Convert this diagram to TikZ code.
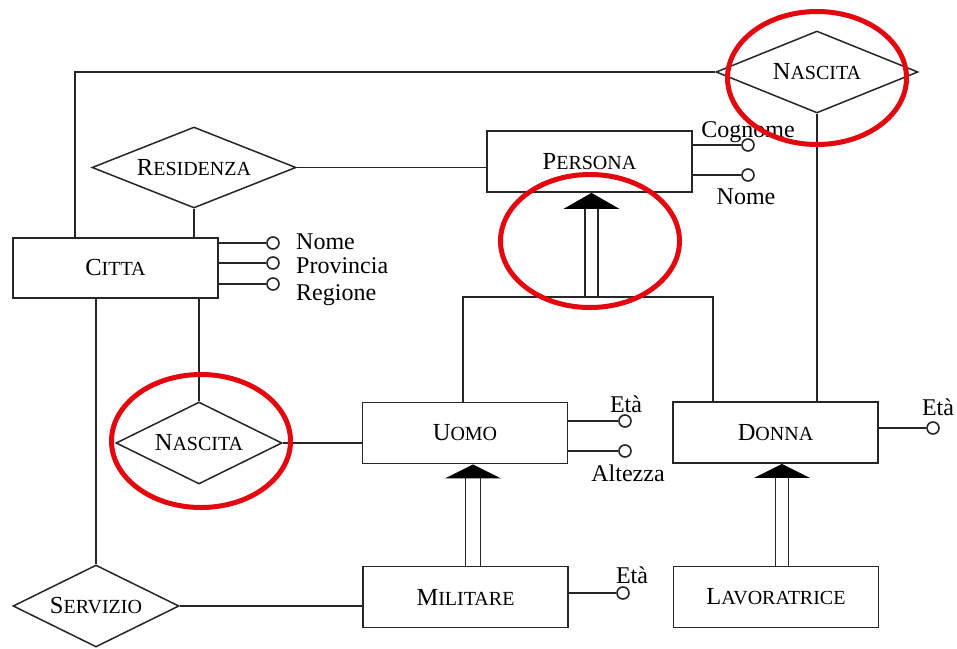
\documentclass[tikz,border=0pt]{standalone}
\usepackage{fontspec}
\setmainfont{Liberation Serif}
\usetikzlibrary{shapes.geometric}
\definecolor{ink}{HTML}{262626}
\definecolor{mark}{HTML}{E3070F}
% faked small capitals: full-size initial, smaller capitals after it
\newcommand\fsc[2]{{\fontsize{24.5}{28}\selectfont #1}{\fontsize{20}{24}\selectfont #2}}
\tikzset{
  entity/.style={draw=ink, line width=1.8pt, minimum width=205pt, minimum height=61pt,
                 inner sep=0pt, text=black, fill=white},
  relation/.style={draw=ink, line width=1.5pt, diamond, aspect=2.5, inner sep=0pt,
                   text=black, fill=white},
  link/.style={draw=ink, line width=1.7pt},
  attr/.style={draw=ink, line width=1.6pt, circle, minimum size=12pt, inner sep=0pt, fill=white},
  attrlabel/.style={inner sep=0pt, anchor=base, font=\fontsize{24}{27}\selectfont, text=black},
  isahead/.style={fill=black},
  highlight/.style={draw=mark, line width=5pt},
}
\begin{document}
\begin{tikzpicture}[x=1pt,y=-1pt]
\useasboundingbox (0,0) rectangle (957,648);
\fill[white] (0,0) rectangle (957,648);

% entities
\node[entity] (persona) at (589.5,161.5) {\fsc{P}{ERSONA}};
\node[entity, minimum height=60pt] (citta) at (115.5,268) {\fsc{C}{ITTA}};
\node[entity] (uomo) at (465,433) {\fsc{U}{OMO}};
\node[entity] (donna) at (775.5,432.5) {\fsc{D}{ONNA}};
\node[entity] (militare) at (465.5,597) {\fsc{M}{ILITARE}};
\node[entity] (lavoratrice) at (776,597) {\fsc{L}{AVORATRICE}};

% relationships
\node[relation, minimum width=202pt, minimum height=82pt] (nascitaT) at (817,72) {\fsc{N}{ASCITA}};
\node[relation, minimum width=204pt, minimum height=81pt] (residenza) at (194,167.5) {\fsc{R}{ESIDENZA}};
\node[relation, minimum width=166pt, minimum height=82pt] (nascitaL) at (199,443) {\fsc{N}{ASCITA}};
\node[relation, minimum width=166pt, minimum height=82pt] (servizio) at (96,606) {\fsc{S}{ERVIZIO}};

% relationship links
\draw[link] (nascitaT.west) -| ([xshift=-40.5pt]citta.north);
\draw[link] (nascitaT.south) -- (nascitaT.south |- donna.north);
\draw[link] (residenza.east) -- (residenza.east -| persona.west);
\draw[link] (residenza.south) -- (residenza.south |- citta.north);
\draw[link] (nascitaL.north) -- (nascitaL.north |- citta.south);
\draw[link] (servizio.north) -- (servizio.north |- citta.south);
\draw[link] (nascitaL.east) -- (nascitaL.east -| uomo.west);
\draw[link] (servizio.east) -- (servizio.east -| militare.west);

% generalization PERSONA -> UOMO, DONNA
\coordinate (hub) at (591.5,297);
\coordinate (pb) at ([xshift=2pt,yshift=-16pt]persona.south);
\coordinate (pbl) at ([xshift=-6.5pt]pb);
\coordinate (pbr) at ([xshift=6.5pt]pb);
\draw[link] ([xshift=-2pt]uomo.north) |- (hub) -| ([xshift=-62.5pt]donna.north);
\draw[link] (pbl) -- (pbl |- hub);
\draw[link] (pbr) -- (pbr |- hub);
\fill[isahead] ([xshift=2pt]persona.south) -- ([xshift=-28pt]pb) -- ([xshift=28pt]pb) -- cycle;

% generalization UOMO -> MILITARE
\coordinate (ub) at ([xshift=8pt,yshift=-14pt]uomo.south);
\coordinate (ubl) at ([xshift=-7.5pt]ub);
\coordinate (ubr) at ([xshift=7.5pt]ub);
\draw[link] (ubl) -- (ubl |- militare.north);
\draw[link] (ubr) -- (ubr |- militare.north);
\fill[isahead] ([xshift=8pt]uomo.south) -- ([xshift=-28pt]ub) -- ([xshift=28pt]ub) -- cycle;

% generalization DONNA -> LAVORATRICE
\coordinate (db) at ([xshift=6.5pt,yshift=-14pt]donna.south);
\coordinate (dbl) at ([xshift=-6.5pt]db);
\coordinate (dbr) at ([xshift=6.5pt]db);
\draw[link] (dbl) -- (dbl |- lavoratrice.north);
\draw[link] (dbr) -- (dbr |- lavoratrice.north);
\fill[isahead] ([xshift=6.5pt]donna.south) -- ([xshift=-28pt]db) -- ([xshift=28pt]db) -- cycle;

% attributes of PERSONA
\node[attr] (pCognome) at (748,145) {};
\node[attr] (pNome) at (748,175) {};
\draw[link] (persona.east |- pCognome) -- (pCognome);
\draw[link] (persona.east |- pNome) -- (pNome);
\node[attrlabel] (lCognome) at (748,137) {Cognome};
\node[attrlabel] (lPNome) at (746,204) {Nome};

% attributes of CITTA
\node[attr] (cNome) at (273,243) {};
\node[attr] (cProv) at (273,263) {};
\node[attr] (cReg) at (273,284) {};
\draw[link] (citta.east |- cNome) -- (cNome);
\draw[link] (citta.east |- cProv) -- (cProv);
\draw[link] (citta.east |- cReg) -- (cReg);
\node[attrlabel, anchor=base west] (lCNome) at (296,249) {Nome};
\node[attrlabel, anchor=base west] (lCProv) at (296,273) {Provincia};
\node[attrlabel, anchor=base west] (lCReg) at (296,300) {Regione};

% attributes of UOMO
\node[attr] (uEta) at (625,421) {};
\node[attr] (uAlt) at (625,451) {};
\draw[link] (uomo.east |- uEta) -- (uEta);
\draw[link] (uomo.east |- uAlt) -- (uAlt);
\node[attrlabel] (lUEta) at (626,412) {Età};
\node[attrlabel] (lUAlt) at (628,481) {Altezza};

% attribute of DONNA
\node[attr] (dEta) at (933,428) {};
\draw[link] (donna.east |- dEta) -- (dEta);
\node[attrlabel] (lDEta) at (938,415) {Età};

% attribute of MILITARE
\node[attr] (mEta) at (623,593) {};
\draw[link] (militare.east |- mEta) -- (mEta);
\node[attrlabel] (lMEta) at (632,583) {Età};

% highlighted regions
\draw[highlight] (817,78) ellipse [x radius=89.5pt, y radius=66.5pt];
\draw[highlight] (590,241) ellipse [x radius=89.5pt, y radius=66.5pt];
\draw[highlight] (201,441) ellipse [x radius=89.5pt, y radius=66.5pt];
\end{tikzpicture}
\end{document}
